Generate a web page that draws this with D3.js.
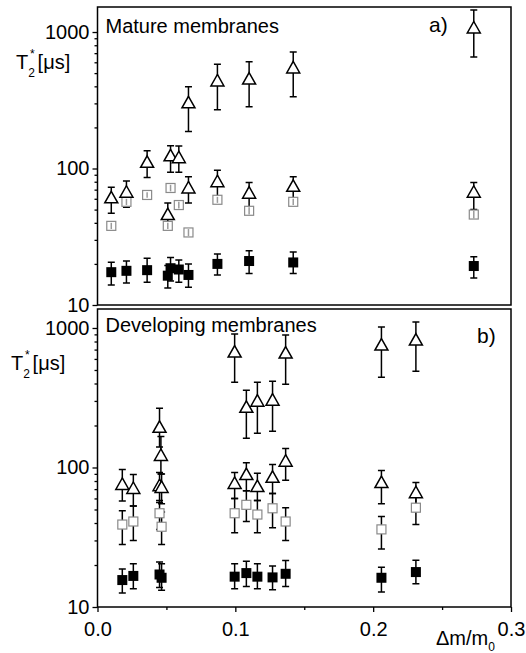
<!DOCTYPE html>
<html>
<head>
<meta charset="utf-8">
<script src="https://cdn.jsdelivr.net/npm/d3@7"></script>
<style>
  body { margin: 0; background: #fff; }
  svg { font-family: "Liberation Sans", Arial, sans-serif; }
  .axis path { display: none; }
  .axis line { stroke: #000; stroke-width: 1.3; }
  .axis text { font-size: 20px; fill: #000; font-family: "Liberation Sans", Arial, sans-serif; }
</style>
</head>
<body>
<div id="chart"></div>
<script>
// tick labels
const xTicks = [0, 0.1, 0.2, 0.3];
const xMinor = [0.05, 0.15, 0.25];
const yTicks = [10, 100, 1000];

// Mature membranes: [dm/m0, T2*, lower, upper]
const matureFilled = [
  [0.010, 17.4, 14.0, 20.6],
  [0.021, 17.8, 14.5, 21.0],
  [0.036, 18.0, 14.7, 22.0],
  [0.051, 16.4, 13.3, 19.5],
  [0.053, 18.6, 15.0, 22.3],
  [0.059, 18.2, 14.7, 21.4],
  [0.066, 16.6, 13.5, 20.0],
  [0.087, 20.0, 16.6, 23.6],
  [0.110, 21.0, 17.0, 25.0],
  [0.142, 20.5, 17.0, 24.5],
  [0.273, 19.3, 15.8, 22.6]
];
const matureOpenSq = [
  [0.010, 38, 36, 40],
  [0.021, 57, 54, 60],
  [0.036, 64, 61, 67],
  [0.051, 38, 36, 40],
  [0.053, 72, 68, 76],
  [0.059, 54, 51, 57],
  [0.066, 34, 32, 36],
  [0.087, 59, 56, 62],
  [0.110, 49, 46, 52],
  [0.142, 57, 54, 60],
  [0.273, 46, 43, 49]
];
const matureTri = [
  [0.010, 61, 47, 73],
  [0.021, 67, 52, 81],
  [0.036, 111, 86, 135],
  [0.051, 46, 36, 56],
  [0.053, 124, 94, 147],
  [0.059, 120, 94, 146],
  [0.066, 72, 56, 87],
  [0.087, 80, 62, 97],
  [0.110, 66, 52, 79],
  [0.142, 74, 59, 87],
  [0.273, 67, 50, 79]
];
const matureTriLong = [
  [0.066, 303, 187, 398],
  [0.087, 438, 270, 580],
  [0.110, 452, 284, 605],
  [0.142, 546, 336, 715],
  [0.273, 1070, 657, 1450]
];

// Developing membranes
const devFilled = [
  [0.018, 15.6, 12.6, 18.7],
  [0.026, 16.7, 13.5, 20.4],
  [0.045, 17.1, 13.8, 21.0],
  [0.0465, 16.2, 13.2, 20.4],
  [0.0995, 16.5, 13.5, 20.4],
  [0.108, 17.5, 14.0, 21.3],
  [0.116, 16.5, 13.5, 20.4],
  [0.127, 16.3, 13.3, 19.7],
  [0.1365, 17.3, 14.0, 21.5],
  [0.206, 16.2, 12.8, 19.3],
  [0.231, 17.8, 14.7, 21.6]
];
const devOpenSq = [
  [0.018, 39, 28, 49],
  [0.026, 41, 30, 53],
  [0.045, 47, 36, 58],
  [0.0465, 37.6, 28, 48],
  [0.0995, 47, 34, 60],
  [0.108, 54, 41, 68],
  [0.116, 46, 34, 58],
  [0.127, 51, 37, 65],
  [0.1365, 41, 30, 51.5],
  [0.206, 36, 26, 44.5],
  [0.231, 51.5, 39, 64]
];
const devTri = [
  [0.018, 75.6, 57.6, 96.6],
  [0.026, 70.7, 53, 89],
  [0.045, 74, 56, 92],
  [0.0465, 72, 55, 90],
  [0.0995, 76.8, 60, 92],
  [0.108, 89, 68, 108],
  [0.116, 73, 58, 91],
  [0.127, 85, 65, 105],
  [0.1365, 111, 81, 137],
  [0.206, 78, 55, 95],
  [0.231, 66, 52, 78]
];
const devTriLong = [
  [0.045, 194, 140, 266],
  [0.046, 122, 90, 167],
  [0.0995, 672, 409, 906],
  [0.108, 270, 162, 358],
  [0.116, 299, 176, 409],
  [0.127, 304, 182, 415],
  [0.1365, 661, 395, 890],
  [0.206, 755, 444, 1017],
  [0.231, 820, 490, 1105]
];

var W = 526, H = 653,
    left = 97.5, right = 511;

const svg = d3.select("#chart").append("svg")
  .attr("width", W)
  .attr("height", H);

let x = d3.scaleLinear()
  .domain([0, 0.3])
  .range([left, right]);

function drawPanel(cfg) {
  let y = d3.scaleLog()
    .domain(cfg.domain)
    .range([cfg.bottom, cfg.top]);

  const g = svg.append("g");

  // minor y ticks
  let minor = y.ticks().filter(d => yTicks.indexOf(d) < 0);
  g.append("g")
    .attr("class", "axis")
    .attr("transform", `translate(${left},0)`)
    .call(d3.axisLeft(y).tickValues(minor).tickSize(3).tickFormat(""));

  g.append("g")
    .attr("class", "axis")
    .attr("transform", `translate(${left},0)`)
    .call(d3.axisLeft(y).tickValues(yTicks).tickSize(5).tickPadding(3).tickFormat(d3.format("d")));

  if (cfg.xAxis) {
    g.append("g")
      .attr("class", "axis")
      .attr("transform", `translate(0,${cfg.bottom})`)
      .call(d3.axisBottom(x).tickValues(xMinor).tickSize(3).tickFormat(""));
    g.append("g")
      .attr("class", "axis")
      .attr("transform", `translate(0,${cfg.bottom})`)
      .call(d3.axisBottom(x).tickValues(xTicks).tickSize(5).tickPadding(10).tickFormat(d3.format(".1f")));
  }

  // frame
  g.append("rect")
    .attr("x", left)
    .attr("y", cfg.top)
    .attr("width", right - left)
    .attr("height", cfg.bottom - cfg.top)
    .attr("fill", "none")
    .attr("stroke", "#000")
    .attr("stroke-width", 1.5);

  // error bars
  const errBars = function(data, colour, cap) {
    let eb = g.append("g").attr("stroke", colour).attr("stroke-width", 1.5).attr("fill", "none");
    eb.selectAll("path")
      .data(data)
      .enter()
      .append("path")
      .attr("d", d => {
        let px = x(d[0]), lo = y(d[2]), hi = y(d[3]);
        let p = `M${px},${lo}V${hi}`;
        if (cap > 0) p += `M${px - cap},${lo}H${px + cap}M${px - cap},${hi}H${px + cap}`;
        return p;
      });
  };

  errBars(cfg.filled, "#000", 3.5);
  if (cfg.sqErr) errBars(cfg.openSq, "#000", 3.5);
  errBars(cfg.tri, "#000", 3.5);
  errBars(cfg.triLong, "#000", 3.5);

  // open grey squares
  g.selectAll("rect.osq")
    .data(cfg.openSq)
    .enter()
    .append("rect")
    .attr("class", "osq")
    .attr("x", d => x(d[0]) - 4.5)
    .attr("y", d => y(d[1]) - 4.5)
    .attr("width", 9)
    .attr("height", 9)
    .attr("fill", "#fff")
    .attr("stroke", "#8a8a8a")
    .attr("stroke-width", 1.2);
  if (!cfg.sqErr) errBars(cfg.openSq, "#9a9a9a", 0);

  // filled squares
  g.selectAll("rect.fsq")
    .data(cfg.filled)
    .enter()
    .append("rect")
    .attr("class", "fsq")
    .attr("x", d => x(d[0]) - 5)
    .attr("y", d => y(d[1]) - 5)
    .attr("width", 10)
    .attr("height", 10)
    .attr("fill", "#000");

  // open triangles
  const tri = d => {
    let px = x(d[0]), py = y(d[1]);
    return `M${px},${py - 6.5}L${px + 6.5},${py + 5}L${px - 6.5},${py + 5}Z`;
  };
  g.selectAll("path.tri")
    .data(cfg.tri.concat(cfg.triLong))
    .enter()
    .append("path")
    .attr("class", "tri")
    .attr("d", tri)
    .attr("fill", "#fff")
    .attr("stroke", "#000")
    .attr("stroke-width", 1.5)
    .attr("stroke-linejoin", "miter");

  // texts
  g.append("text")
    .attr("x", left + 8)
    .attr("y", cfg.top + cfg.titleDy)
    .style("font-size", "20px")
    .text(cfg.title);

  g.append("text")
    .attr("x", cfg.letterX)
    .attr("y", cfg.top + cfg.letterDy)
    .style("font-size", "21px")
    .text(cfg.letter);

  let lab = g.append("text")
    .attr("x", cfg.labelX)
    .attr("y", cfg.top + cfg.labelDy)
    .style("font-size", "20px");
  lab.append("tspan").text("T");
  lab.append("tspan").attr("dy", 8).style("font-size", "12px").text("2");
  lab.append("tspan").attr("dy", -19).attr("dx", -5).style("font-size", "12px").text("*");
  lab.append("tspan").attr("dy", 11).attr("dx", 3).text("[\u03bcs]");
}

drawPanel({
  top: 7, bottom: 305, domain: [10, 1525], xAxis: false,
  title: "Mature membranes", titleDy: 26,
  letter: "a)", letterX: 429, letterDy: 25,
  labelX: 16, labelDy: 62,
  filled: matureFilled, openSq: matureOpenSq, tri: matureTri, triLong: matureTriLong, sqErr: false
});

drawPanel({
  top: 309, bottom: 607, domain: [10, 1368], xAxis: true,
  title: "Developing membranes", titleDy: 23,
  letter: "b)", letterX: 477, letterDy: 34,
  labelX: 11, labelDy: 61,
  filled: devFilled, openSq: devOpenSq, tri: devTri, triLong: devTriLong, sqErr: true
});

// x axis title
let xl = svg.append("text")
  .attr("x", 436)
  .attr("y", 645)
  .style("font-size", "20px");
xl.append("tspan").text("\u0394m/m");
xl.append("tspan").attr("dy", 6).style("font-size", "12px").text("0");
</script>
</body>
</html>
